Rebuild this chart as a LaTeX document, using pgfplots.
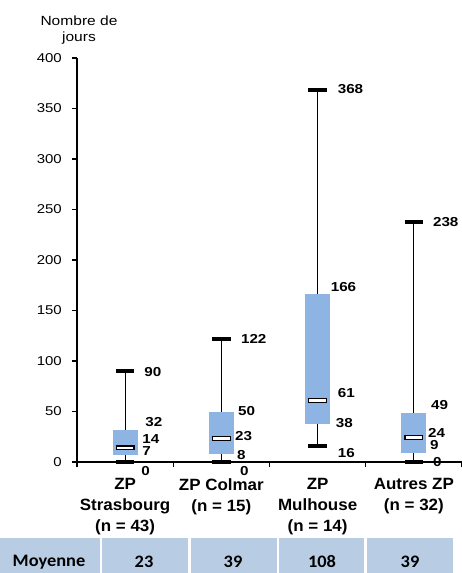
\documentclass[border=0pt]{standalone}
\usepackage{pgfplots}
\pgfplotsset{compat=1.18}
\usepgfplotslibrary{statistics}
\usepackage{fontspec}
\setmainfont{Liberation Sans}[FakeStretch=1.17]
\newfontfamily\catfont{Liberation Sans}[FakeStretch=1.04]
\newfontfamily\tabfont{Carlito}[FakeStretch=1.05]
\definecolor{boxblue}{HTML}{8DB4E2}
\definecolor{tabblue}{HTML}{B8CCE4}
\newcommand{\fs}{\fontsize{13}{16}\selectfont}
\newcommand{\fsc}{\catfont\fontsize{16.3}{21}\selectfont}
\pgfplotsset{
  boxplot/draw/median/.code={
    \draw[black, line width=5pt]
      (boxplot box cs:\pgfplotsboxplotvalue{median},0.12) -- (boxplot box cs:\pgfplotsboxplotvalue{median},0.88);
    \draw[white, line width=2.6pt]
      (boxplot box cs:\pgfplotsboxplotvalue{median},0.17) -- (boxplot box cs:\pgfplotsboxplotvalue{median},0.83);
  },
  boxplot/draw/lower whisker/.code={
    \draw[black, line width=1pt]
      (boxplot cs:\pgfplotsboxplotvalue{lower whisker}) -- (boxplot cs:\pgfplotsboxplotvalue{lower quartile});
    \draw[black, line width=3.8pt]
      (boxplot whisker cs:\pgfplotsboxplotvalue{lower whisker},0) -- (boxplot whisker cs:\pgfplotsboxplotvalue{lower whisker},1);
  },
  boxplot/draw/upper whisker/.code={
    \draw[black, line width=1pt]
      (boxplot cs:\pgfplotsboxplotvalue{upper quartile}) -- (boxplot cs:\pgfplotsboxplotvalue{upper whisker});
    \draw[black, line width=3.8pt]
      (boxplot whisker cs:\pgfplotsboxplotvalue{upper whisker},0) -- (boxplot whisker cs:\pgfplotsboxplotvalue{upper whisker},1);
  },
}
\begin{document}
\begin{tikzpicture}
\begin{axis}[
  at={(0pt,0pt)}, anchor=south west,
  scale only axis, width=385pt, height=404pt,
  xmin=-0.5, xmax=3.5, ymin=0, ymax=400,
  clip=false,
  axis x line*=bottom, axis y line*=left,
  axis line style={line width=1.2pt},
  ytick={0,50,...,400},
  xtick={-0.5,0.5,1.5,2.5,3.5},
  xticklabels={},
  tick align=outside, major tick length=5pt,
  tick style={black, line width=1.2pt},
  /pgf/number format/assume math mode=true,
  yticklabel style={font=\fontsize{12.8}{15}\selectfont, inner sep=0pt, xshift=-10pt},
  boxplot/draw direction=y,
  boxplot/box extend=0.26,
  boxplot/whisker extend=0.19,
  boxplot/every box/.style={fill=boxblue, draw=none},
]
\addplot[boxplot prepared={draw position=0, lower whisker=0, lower quartile=7, median=14, upper quartile=32, upper whisker=90}] coordinates {};
\addplot[boxplot prepared={draw position=1, lower whisker=0, lower quartile=8, median=23, upper quartile=50, upper whisker=122}] coordinates {};
\addplot[boxplot prepared={draw position=2, lower whisker=16, lower quartile=38, median=61, upper quartile=166, upper whisker=368}] coordinates {};
\addplot[boxplot prepared={draw position=3, lower whisker=0, lower quartile=9, median=24, upper quartile=49, upper whisker=238}] coordinates {};

% Strasbourg
\node[anchor=west, inner sep=0pt, font=\fs\bfseries, xshift=19pt] at (axis cs:0,89.5) {90};
\node[anchor=west, inner sep=0pt, font=\fs\bfseries, xshift=20pt] at (axis cs:0,40) {32};
\node[anchor=west, inner sep=0pt, font=\fs\bfseries, xshift=17pt] at (axis cs:0,22.8) {14};
\node[anchor=west, inner sep=0pt, font=\fs\bfseries, xshift=17pt] at (axis cs:0,11) {7};
\node[anchor=west, inner sep=0pt, font=\fs\bfseries, xshift=16pt] at (axis cs:0,-9) {0};
% Colmar
\node[anchor=west, inner sep=0pt, font=\fs\bfseries, xshift=19.5pt] at (axis cs:1,122) {122};
\node[anchor=west, inner sep=0pt, font=\fs\bfseries, xshift=16.5pt] at (axis cs:1,50) {50};
\node[anchor=west, inner sep=0pt, font=\fs\bfseries, xshift=13.5pt] at (axis cs:1,25.7) {23};
\node[anchor=west, inner sep=0pt, font=\fs\bfseries, xshift=15.5pt] at (axis cs:1,7.2) {8};
\node[anchor=west, inner sep=0pt, font=\fs\bfseries, xshift=18.5pt] at (axis cs:1,-9) {0};
% Mulhouse
\node[anchor=west, inner sep=0pt, font=\fs\bfseries, xshift=20pt] at (axis cs:2,369) {368};
\node[anchor=west, inner sep=0pt, font=\fs\bfseries, xshift=13pt] at (axis cs:2,173) {166};
\node[anchor=west, inner sep=0pt, font=\fs\bfseries, xshift=20pt] at (axis cs:2,68) {61};
\node[anchor=west, inner sep=0pt, font=\fs\bfseries, xshift=18pt] at (axis cs:2,38.3) {38};
\node[anchor=west, inner sep=0pt, font=\fs\bfseries, xshift=20pt] at (axis cs:2,8.6) {16};
% Autres
\node[anchor=west, inner sep=0pt, font=\fs\bfseries, xshift=19pt] at (axis cs:3,238) {238};
\node[anchor=west, inner sep=0pt, font=\fs\bfseries, xshift=17pt] at (axis cs:3,56.4) {49};
\node[anchor=west, inner sep=0pt, font=\fs\bfseries, xshift=14pt] at (axis cs:3,28.9) {24};
\node[anchor=west, inner sep=0pt, font=\fs\bfseries, xshift=16pt] at (axis cs:3,16.8) {9};
\node[anchor=west, inner sep=0pt, font=\fs\bfseries, xshift=19pt] at (axis cs:3,0.3) {0};

\node[anchor=north, inner sep=0pt, align=center, font=\fsc\bfseries, yshift=-16pt] at (axis cs:0,0) {ZP\\Strasbourg\\(n = 43)};
\node[anchor=north, inner sep=0pt, align=center, font=\fsc\bfseries, yshift=-16pt] at (axis cs:1,0) {ZP Colmar\\(n = 15)};
\node[anchor=north, inner sep=0pt, align=center, font=\fsc\bfseries, yshift=-16pt] at (axis cs:2,0) {ZP\\Mulhouse\\(n = 14)};
\node[anchor=north, inner sep=0pt, align=center, font=\fsc\bfseries, yshift=-16pt] at (axis cs:3,0) {Autres ZP\\(n = 32)};
\end{axis}

\node[anchor=north, inner sep=0pt, align=center, font=\fontsize{13.3}{15.7}\selectfont] at (2pt,446pt) {Nombre de\\jours};

% table
\fill[tabblue] (-77pt,-76pt) rectangle (23pt,-111pt);
\fill[tabblue] (25pt,-76pt) rectangle (111pt,-111pt);
\fill[tabblue] (114pt,-76pt) rectangle (200pt,-111pt);
\fill[tabblue] (202pt,-76pt) rectangle (287pt,-111pt);
\fill[tabblue] (290pt,-76pt) rectangle (376pt,-111pt);
\node[inner sep=0pt, font=\tabfont\bfseries\fontsize{17.5}{20}\selectfont] at (-28pt,-100pt) {Moyenne};
\node[inner sep=0pt, font=\tabfont\bfseries\fontsize{17.5}{20}\selectfont] at (67pt,-100pt) {23};
\node[inner sep=0pt, font=\tabfont\bfseries\fontsize{17.5}{20}\selectfont] at (156pt,-100pt) {39};
\node[inner sep=0pt, font=\tabfont\bfseries\fontsize{17.5}{20}\selectfont] at (245pt,-100pt) {108};
\node[inner sep=0pt, font=\tabfont\bfseries\fontsize{17.5}{20}\selectfont] at (333pt,-100pt) {39};

\pgfresetboundingbox
\useasboundingbox (-77pt,-111pt) rectangle (385pt,462pt);
\end{tikzpicture}
\end{document}
